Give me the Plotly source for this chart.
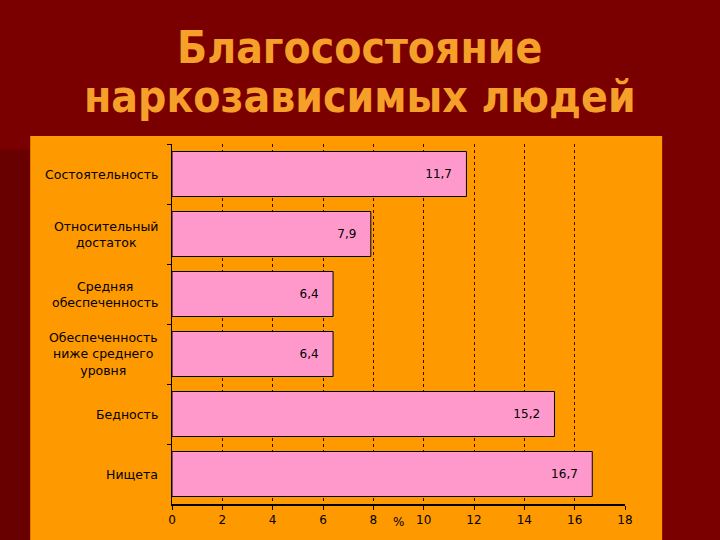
import plotly.graph_objects as go

categories = [
    "Состоятельность",
    "Относительный<br>достаток",
    "Средняя<br>обеспеченность",
    "Обеспеченность<br>ниже среднего<br>уровня",
    "Бедность",
    "Нищета",
]
values = [11.7, 7.9, 6.4, 6.4, 15.2, 16.7]
x_ticks = [0, 2, 4, 6, 8, 10, 12, 14, 16, 18]
title_lines = ["Благосостояние", "наркозависимых людей"]

BG = "#7a0000"
ORANGE = "#ff9900"
PINK = "#ff99cc"
FONT = "DejaVu Sans"

labels = [f"{v:.1f}".replace(".", ",") + "&nbsp;&nbsp;&nbsp;" for v in values]

fig = go.Figure()
fig.add_trace(go.Bar(
    x=values,
    y=categories,
    orientation="h",
    marker=dict(color=PINK, line=dict(color="black", width=1)),
    text=labels,
    textposition="inside",
    insidetextanchor="end",
    textfont=dict(family=FONT, size=12, color="black"),
    hoverinfo="skip",
))

# category labels: right edge fixed, lines centered
for cat in categories:
    fig.add_annotation(
        x=-0.027, xref="paper", y=cat, yref="y",
        text=cat, showarrow=False, xanchor="right", align="center",
        font=dict(family=FONT, size=12.5, color="black"),
    )

fig.add_annotation(
    x=9, xref="x", y=-0.05, yref="paper", text="%", showarrow=False,
    yanchor="middle", font=dict(family=FONT, size=12, color="black"),
)

# title, one annotation per line, centred on the page (not the plot area)
for line, ypos in zip(title_lines, [1.267, 1.131]):
    fig.add_annotation(
        x=0.415, xref="paper", y=ypos, yref="paper", yanchor="middle",
        text=f"<b>{line}</b>", showarrow=False,
        font=dict(family="DejaVu Sans Condensed", size=44, color="#f5a028"),
    )

# orange panel and left shadow
fig.add_shape(type="rect", xref="paper", yref="paper",
              x0=-0.38, x1=-0.313, y0=-0.2, y1=0.985,
              fillcolor="#680000", line_width=0, layer="below")
fig.add_shape(type="rect", xref="paper", yref="paper",
              x0=-0.313, x1=1.082, y0=-0.2, y1=1.022,
              fillcolor=ORANGE, line_width=0, layer="below")

fig.update_layout(
    width=720, height=540,
    margin=dict(l=172, r=95, t=144, b=36),
    paper_bgcolor=BG,
    plot_bgcolor=ORANGE,
    showlegend=False,
    bargap=0.25,
    xaxis=dict(
        range=[0, 18], tickvals=x_ticks,
        showgrid=True, gridcolor="#3a0800", griddash="3px,3px", gridwidth=1.2,
        zeroline=False,
        showline=True, linecolor="black", linewidth=2,
        ticks="outside", ticklen=4, tickcolor="black",
        tickfont=dict(family=FONT, size=12, color="black"),
    ),
    yaxis=dict(
        autorange="reversed",
        showticklabels=False,
        showline=True, linecolor="black", linewidth=1,
        ticks="outside", ticklen=4, tickcolor="black", tickson="boundaries",
        showgrid=False,
    ),
)

fig.write_html("out.html", config={"displayModeBar": False},
               post_script="document.body.style.margin='0px';")
